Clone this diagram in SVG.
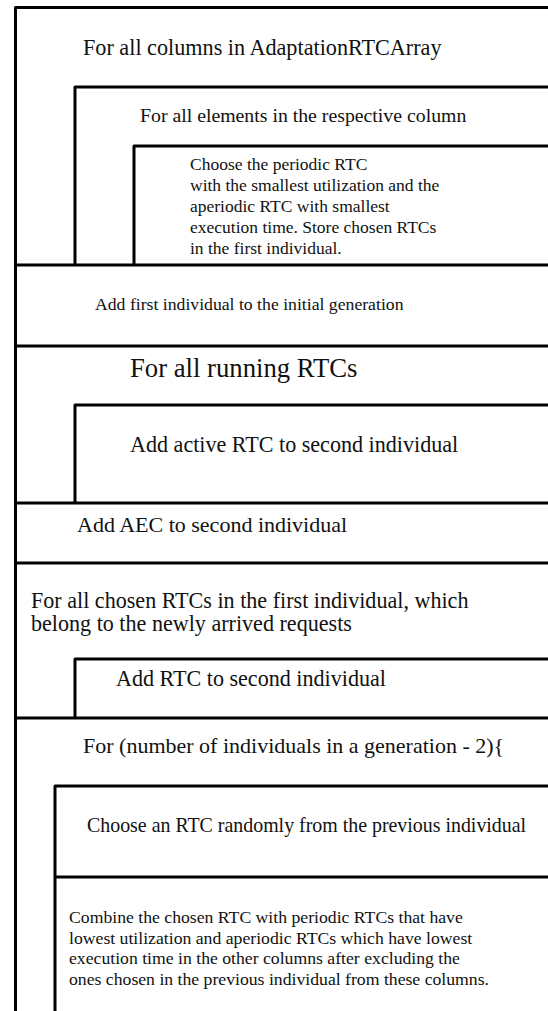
<svg xmlns="http://www.w3.org/2000/svg" width="548" height="1011" viewBox="0 0 548 1011">
  <style>
    .frame { fill: none; stroke: #000; stroke-width: 3; stroke-linejoin: round; }
    .txt { font-family: "Liberation Serif", "Times New Roman", serif; fill: #111; }
  </style>
  <rect width="548" height="1011" fill="#fff"/>

  <!-- structogram frame lines -->
  <g id="connectors">
    <path class="frame" d="M15.5,1011 V7.5 H548"/>
    <path class="frame" d="M75,265 V87 H548"/>
    <path class="frame" d="M134,265 V146 H548"/>
    <path class="frame" d="M15.5,265 H548"/>
    <path class="frame" d="M15.5,346 H548"/>
    <path class="frame" d="M75,503 V405 H548"/>
    <path class="frame" d="M15.5,503 H548"/>
    <path class="frame" d="M15.5,563 H548"/>
    <path class="frame" d="M75,718 V659 H548"/>
    <path class="frame" d="M15.5,718 H548"/>
    <path class="frame" d="M55,1011 V786 H548"/>
    <path class="frame" d="M55,877 H548"/>
  </g>

  <g id="loop-columns">
    <text class="txt" x="83" y="55" font-size="22.2">For all columns in AdaptationRTCArray</text>
  </g>
  <g id="loop-elements">
    <text class="txt" x="140" y="121.5" font-size="19.8">For all elements in the respective column</text>
  </g>
  <g id="choose-smallest">
    <text class="txt" font-size="17.5">
      <tspan x="190" y="170">Choose the periodic RTC</tspan>
      <tspan x="190" y="191">with the smallest utilization and the</tspan>
      <tspan x="190" y="212">aperiodic RTC with smallest</tspan>
      <tspan x="190" y="233">execution time. Store chosen RTCs</tspan>
      <tspan x="190" y="254">in the first individual.</tspan>
    </text>
  </g>
  <g id="add-first">
    <text class="txt" x="95" y="309.5" font-size="17.7">Add first individual to the initial generation</text>
  </g>
  <g id="loop-running">
    <text class="txt" x="130" y="377" font-size="26.7">For all running RTCs</text>
  </g>
  <g id="add-active">
    <text class="txt" x="130" y="452" font-size="22.1">Add active RTC to second individual</text>
  </g>
  <g id="add-aec">
    <text class="txt" x="77" y="531.5" font-size="22">Add AEC to second individual</text>
  </g>
  <g id="loop-chosen">
    <text class="txt" font-size="22.1">
      <tspan x="31" y="607.5">For all chosen RTCs in the first individual, which</tspan>
      <tspan x="31" y="631">belong to the newly arrived requests</tspan>
    </text>
  </g>
  <g id="add-rtc">
    <text class="txt" x="116" y="685.5" font-size="22.1">Add RTC to second individual</text>
  </g>
  <g id="loop-generation">
    <text class="txt" x="83" y="753" font-size="22">For (number of individuals in a generation - 2){</text>
  </g>
  <g id="choose-random">
    <text class="txt" x="87" y="832" font-size="19.9">Choose an RTC randomly from the previous individual</text>
  </g>
  <g id="combine">
    <text class="txt" font-size="17.7">
      <tspan x="69" y="922.5">Combine the chosen RTC with periodic RTCs that have</tspan>
      <tspan x="69" y="943.5">lowest utilization and aperiodic RTCs which have lowest</tspan>
      <tspan x="69" y="964">execution time in the other columns after excluding the</tspan>
      <tspan x="69" y="984.5">ones chosen in the previous individual from these columns.</tspan>
    </text>
  </g>
</svg>
